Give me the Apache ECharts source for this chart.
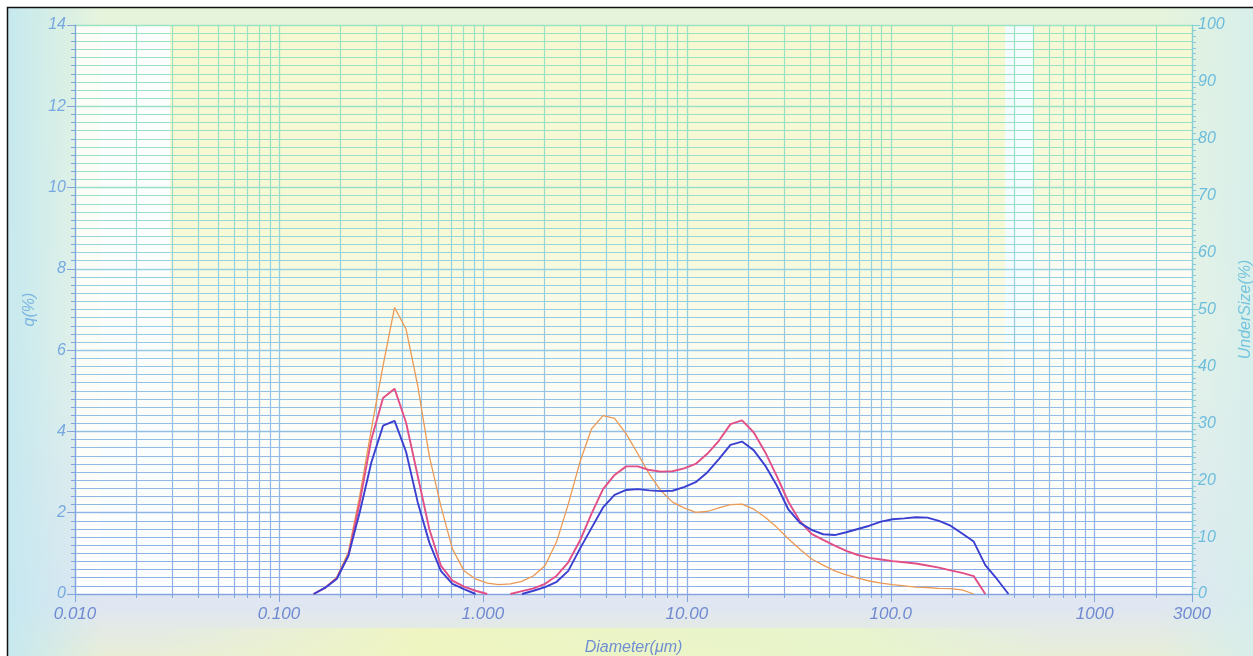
<!DOCTYPE html>
<html>
<head>
<meta charset="utf-8">
<script src="https://cdn.jsdelivr.net/npm/echarts@6/dist/echarts.min.js"></script>
<style>
html,body{margin:0;padding:0;background:#fff;}
#chart{width:1253px;height:656px;}
</style>
</head>
<body>
<div id="chart"></div>
<script>
// Diameter bins (µm)
const diameters = [0.148,0.168,0.192,0.219,0.249,0.284,0.324,0.369,0.420,0.479,0.546,0.622,0.709,0.808,0.921,1.050,1.197,1.364,1.554,1.771,2.019,2.301,2.623,2.989,3.407,3.883,4.425,5.043,5.748,6.551,7.467,8.510,9.699,11.05,12.60,14.36,16.37,18.65,21.26,24.23,27.62,31.47,35.87,40.88,46.60,53.11,60.53,68.99,78.63,89.61,102.1,116.4,132.7,151.2,172.3,196.4,223.9,255.1,290.8,331.4,377.7];
// q(%) values per curve (null = no value)
const qOrange = [0.0,0.15,0.41,1.03,2.42,4.06,5.62,7.05,6.52,5.13,3.40,2.17,1.11,0.57,0.37,0.27,0.23,0.25,0.31,0.45,0.70,1.29,2.21,3.24,4.06,4.39,4.32,3.94,3.45,2.95,2.54,2.26,2.12,2.01,2.03,2.12,2.20,2.21,2.09,1.89,1.64,1.36,1.10,0.86,0.71,0.57,0.47,0.39,0.32,0.27,0.23,0.20,0.17,0.16,0.14,0.13,0.10,0.0,null,null,null];
const qRed = [0.0,0.15,0.39,0.94,2.26,3.81,4.82,5.05,4.22,2.91,1.60,0.70,0.33,0.18,0.08,0.0,null,0.0,0.07,0.14,0.25,0.45,0.78,1.31,1.97,2.58,2.93,3.14,3.14,3.05,3.01,3.02,3.09,3.20,3.45,3.77,4.18,4.27,3.98,3.49,2.90,2.27,1.79,1.48,1.33,1.19,1.06,0.96,0.89,0.85,0.81,0.78,0.75,0.70,0.65,0.58,0.52,0.44,0.0,null,null];
const qBlue = [0.0,0.15,0.37,0.94,2.01,3.24,4.14,4.26,3.50,2.26,1.27,0.57,0.25,0.12,0.0,null,null,null,0.0,0.08,0.17,0.30,0.57,1.11,1.62,2.13,2.44,2.56,2.58,2.55,2.53,2.54,2.63,2.75,2.99,3.32,3.67,3.75,3.54,3.16,2.67,2.08,1.75,1.58,1.47,1.45,1.52,1.60,1.68,1.78,1.84,1.86,1.89,1.88,1.80,1.68,1.49,1.29,0.71,0.37,0.0];
// x tick labels
const xTickValues = [0.01, 0.1, 1, 10, 100, 1000, 3000];
const xTickLabels = ['0.010', '0.100', '1.000', '10.00', '100.0', '1000', '3000'];
// minor vertical grid lines (µm)
const xMinorGrid = [0.02,0.03,0.04,0.05,0.06,0.07,0.08,0.09,0.2,0.3,0.4,0.5,0.6,0.7,0.8,0.9,2,3,4,5,6,7,8,9,20,30,40,50,60,70,80,90,200,300,400,500,600,700,800,900,2000];

function pairs(arr) {
  return diameters.map((d, i) => [d, arr[i] === null ? '-' : arr[i]]);
}
function xLabel(v) {
  let best = 0, bd = 1e9;
  for (let i = 0; i < xTickValues.length; i++) {
    const dd = Math.abs(Math.log10(v) - Math.log10(xTickValues[i]));
    if (dd < bd) { bd = dd; best = i; }
  }
  return bd < 0.01 ? xTickLabels[best] : '';
}

const chart = echarts.init(document.getElementById('chart'), null, {renderer: 'canvas'});
const L = 75, T = 25, R = 1192, B = 594;
const gridColor = new echarts.graphic.LinearGradient(0, T, 0, B, [
  {offset: 0, color: '#9be2c2'},
  {offset: 0.3, color: '#98dec8'},
  {offset: 0.42, color: '#96d2e0'},
  {offset: 0.7, color: '#92bfe6'},
  {offset: 1, color: '#8cade6'}
], true);
const tickColor = '#82a4de';

function renderMinorGrid(params, api) {
  const v = api.value(0);
  const top = api.coord([v, 14]);
  const bot = api.coord([v, 0]);
  const x = Math.round(bot[0]) + 0.5;
  return {
    type: 'group',
    children: [
      {type: 'line', shape: {x1: x, y1: Math.round(top[1]), x2: x, y2: Math.round(bot[1])},
       style: {stroke: gridColor, lineWidth: 1.2}},
      {type: 'line', shape: {x1: x, y1: Math.round(bot[1]), x2: x, y2: Math.round(bot[1]) + 4},
       style: {stroke: tickColor, lineWidth: 1}}
    ]
  };
}

const option = {
  backgroundColor: '#ffffff',
  animation: false,
  graphic: [
    {type: 'rect', z: -100, shape: {x: 7, y: 7, width: 1246, height: 649},
     style: {fill: new echarts.graphic.LinearGradient(0, 0, 0, 1, [
       {offset: 0, color: '#e6f4dc'}, {offset: 0.5, color: '#eaf4e6'}, {offset: 0.92, color: '#e0e6f2'}, {offset: 1, color: '#e8eed8'}])}},
    {type: 'rect', z: -99, shape: {x: 7, y: 7, width: 95, height: 649},
     style: {fill: new echarts.graphic.LinearGradient(0, 0, 1, 0, [
       {offset: 0, color: 'rgba(196,232,240,0.95)'}, {offset: 1, color: 'rgba(196,232,240,0)'}])}},
    {type: 'rect', z: -99, shape: {x: 1160, y: 7, width: 93, height: 649},
     style: {fill: new echarts.graphic.LinearGradient(0, 0, 1, 0, [
       {offset: 0, color: 'rgba(214,238,236,0)'}, {offset: 1, color: 'rgba(214,238,236,0.9)'}])}},
    {type: 'rect', z: -98, shape: {x: L, y: T, width: R - L, height: B - T},
     style: {fill: '#fdfdf8'}},
    {type: 'rect', z: -97, shape: {x: 170, y: T, width: 835, height: 380},
     style: {fill: new echarts.graphic.LinearGradient(0, 0, 0, 1, [
       {offset: 0, color: 'rgba(245,248,206,0.95)'}, {offset: 0.55, color: 'rgba(245,248,208,0.85)'}, {offset: 1, color: 'rgba(246,248,220,0)'}])}},
    {type: 'rect', z: -97, shape: {x: 1033, y: T, width: 159, height: 260},
     style: {fill: new echarts.graphic.LinearGradient(0, 0, 0, 1, [
       {offset: 0, color: 'rgba(245,248,206,0.85)'}, {offset: 0.7, color: 'rgba(245,248,208,0.7)'}, {offset: 1, color: 'rgba(246,248,220,0)'}])}},
    {type: 'rect', z: -96, shape: {x: L, y: 400, width: R - L, height: B - 400},
     style: {fill: new echarts.graphic.LinearGradient(0, 0, 0, 1, [
       {offset: 0, color: 'rgba(255,255,255,0)'}, {offset: 1, color: 'rgba(255,255,255,0.9)'}])}},
    {type: 'rect', z: -95, shape: {x: 100, y: T, width: 70, height: B - T},
     style: {fill: 'rgba(250,254,255,0.75)'}},
    {type: 'rect', z: -95, shape: {x: 1005, y: T, width: 28, height: 320},
     style: {fill: 'rgba(240,252,255,0.8)'}},
    {type: 'rect', z: -94, shape: {x: 150, y: 628, width: 900, height: 28},
     style: {fill: new echarts.graphic.LinearGradient(0, 0, 1, 0, [
       {offset: 0, color: 'rgba(238,246,200,0)'}, {offset: 0.3, color: 'rgba(240,246,190,0.9)'}, {offset: 0.8, color: 'rgba(232,246,200,0.8)'}, {offset: 1, color: 'rgba(232,246,210,0)'}])}},
    {type: 'polyline', z: 100, shape: {points: [[7.5, 656], [7.5, 7.5], [1253, 7.5]]},
     style: {stroke: '#111', lineWidth: 1.5, fill: null}}
  ],
  grid: {left: L, right: 1253 - R, top: T, bottom: 656 - B, containLabel: false, outerBoundsMode: 'none'},
  xAxis: {
    type: 'log', logBase: 10, min: 0.01, max: 3000,
    name: 'Diameter(μm)', nameLocation: 'middle', nameGap: 46,
    nameTextStyle: {color: '#6f8ed4', fontStyle: 'italic', fontSize: 16, fontFamily: 'Liberation Sans'},
    axisLine: {show: true, lineStyle: {color: tickColor, width: 1.2}},
    axisTick: {show: true, length: 8, inside: false, lineStyle: {color: tickColor}},
    minorTick: {show: false},
    axisLabel: {formatter: xLabel, color: '#6f8ad2', fontStyle: 'italic', fontSize: 17, fontFamily: 'Liberation Sans', margin: 12, showMaxLabel: true},
    splitLine: {show: true, lineStyle: {color: gridColor, width: 1.3}},
    minorSplitLine: {show: false}
  },
  yAxis: [
    {
      type: 'value', min: 0, max: 14, interval: 2, position: 'left',
      name: 'q(%)', nameLocation: 'middle', nameGap: 37,
      nameTextStyle: {color: '#7ab4e0', fontStyle: 'italic', fontSize: 16, fontFamily: 'Liberation Sans'},
      axisLine: {show: true, lineStyle: {color: tickColor, width: 1.2}},
      axisTick: {show: true, length: 8, lineStyle: {color: tickColor}},
      minorTick: {show: true, splitNumber: 10, length: 4, lineStyle: {color: tickColor}},
      axisLabel: {color: '#78a8e0', fontStyle: 'italic', fontSize: 16, fontFamily: 'Liberation Sans', margin: 9},
      splitLine: {show: true, lineStyle: {color: gridColor, width: 1.3}},
      minorSplitLine: {show: true, lineStyle: {color: gridColor, width: 1.1}}
    },
    {
      type: 'value', min: 0, max: 100, interval: 10, position: 'right',
      name: 'UnderSize(%)', nameLocation: 'middle', nameGap: 46,
      nameTextStyle: {color: '#74c4dc', fontStyle: 'italic', fontSize: 16, fontFamily: 'Liberation Sans'},
      axisLine: {show: true, lineStyle: {color: '#84cfd8', width: 1.2}},
      axisTick: {show: true, length: 8, lineStyle: {color: '#84cfd8'}},
      minorTick: {show: true, splitNumber: 10, length: 4, lineStyle: {color: '#8cc8dc'}},
      axisLabel: {color: '#6cbcdc', fontStyle: 'italic', fontSize: 16, fontFamily: 'Liberation Sans', margin: 6},
      splitLine: {show: false}
    }
  ],
  series: [
    {name: 'minorGrid', type: 'custom', silent: true, z: 1, clip: false,
     data: xMinorGrid.map(v => [v]), encode: {x: 0}, renderItem: renderMinorGrid},
    {name: 'orange', type: 'line', data: pairs(qOrange), showSymbol: false, symbol: 'none', connectNulls: false,
     lineStyle: {color: '#eb9a55', width: 1.3}, z: 3},
    {name: 'red', type: 'line', data: pairs(qRed), showSymbol: false, symbol: 'none', connectNulls: false,
     lineStyle: {color: '#e24e86', width: 1.9}, z: 4},
    {name: 'blue', type: 'line', data: pairs(qBlue), showSymbol: false, symbol: 'none', connectNulls: false,
     lineStyle: {color: '#3b3fd0', width: 1.9}, z: 5}
  ]
};
chart.setOption(option);
</script>
</body>
</html>
